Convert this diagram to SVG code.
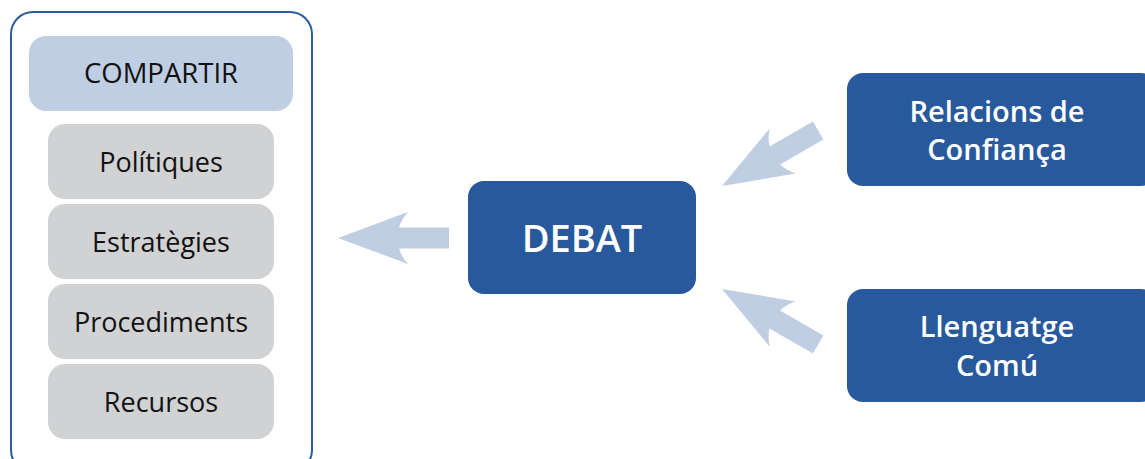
<svg xmlns="http://www.w3.org/2000/svg" width="1145" height="459" viewBox="0 0 1145 459">
  <style>
    .frame { fill: #ffffff; stroke: #2b5c9f; stroke-width: 2; }
    .head { fill: #bfcee3; }
    .item { fill: #d1d2d4; }
    .blue { fill: #27599c; }
    .dark { font-family: "Open Sans", "Noto Sans", sans-serif; fill: #111111; text-anchor: middle; }
    .light { font-family: "Open Sans", "Noto Sans", sans-serif; fill: #ffffff; text-anchor: middle; font-weight: 600; }
    .arrow { fill: #bfcee3; }
  </style>
  <defs>
    <!-- block arrow pointing left, tip at the origin -->
    <path id="blockArrow" d="M0,0 L70,-26 Q63,-18 61,-10.5 L111,-10.5 L111,10.5 L61,10.5 Q63,18 70,26 Z"/>
  </defs>

  <!-- left panel -->
  <g id="panel">
    <rect class="frame" x="11" y="12" width="301" height="460" rx="22"/>
  </g>
  <g id="compartir">
    <rect class="head" x="29" y="36" width="264" height="75" rx="17"/>
    <text class="dark" x="161" y="83" font-size="27.5">COMPARTIR</text>
  </g>
  <g id="politiques">
    <rect class="item" x="48" y="124" width="226" height="75" rx="17"/>
    <text class="dark" x="161" y="172" font-size="27">Polítiques</text>
  </g>
  <g id="estrategies">
    <rect class="item" x="48" y="204" width="226" height="75" rx="17"/>
    <text class="dark" x="161" y="252" font-size="27">Estratègies</text>
  </g>
  <g id="procediments">
    <rect class="item" x="48" y="284" width="226" height="75" rx="17"/>
    <text class="dark" x="161" y="332" font-size="27">Procediments</text>
  </g>
  <g id="recursos">
    <rect class="item" x="48" y="364" width="226" height="75" rx="17"/>
    <text class="dark" x="161" y="412" font-size="27">Recursos</text>
  </g>

  <!-- central node -->
  <g id="debat">
    <rect class="blue" x="468" y="181" width="228" height="113" rx="16"/>
    <text class="light" x="582" y="252" font-size="38" font-weight="500">DEBAT</text>
  </g>

  <!-- source nodes -->
  <g id="relacions">
    <rect class="blue" x="847" y="73" width="310" height="113" rx="16"/>
    <text class="light" x="997" y="122" font-size="29">Relacions de</text>
    <text class="light" x="997" y="160" font-size="29">Confiança</text>
  </g>
  <g id="llenguatge">
    <rect class="blue" x="847" y="289" width="310" height="113" rx="16"/>
    <text class="light" x="997" y="337" font-size="29">Llenguatge</text>
    <text class="light" x="997" y="376" font-size="29">Comú</text>
  </g>

  <!-- connectors -->
  <g id="connectors" class="arrow">
    <use href="#blockArrow" transform="translate(338,238)"/>
    <use href="#blockArrow" transform="translate(722,186) rotate(-30)"/>
    <use href="#blockArrow" transform="translate(722,289) rotate(30)"/>
  </g>
</svg>
